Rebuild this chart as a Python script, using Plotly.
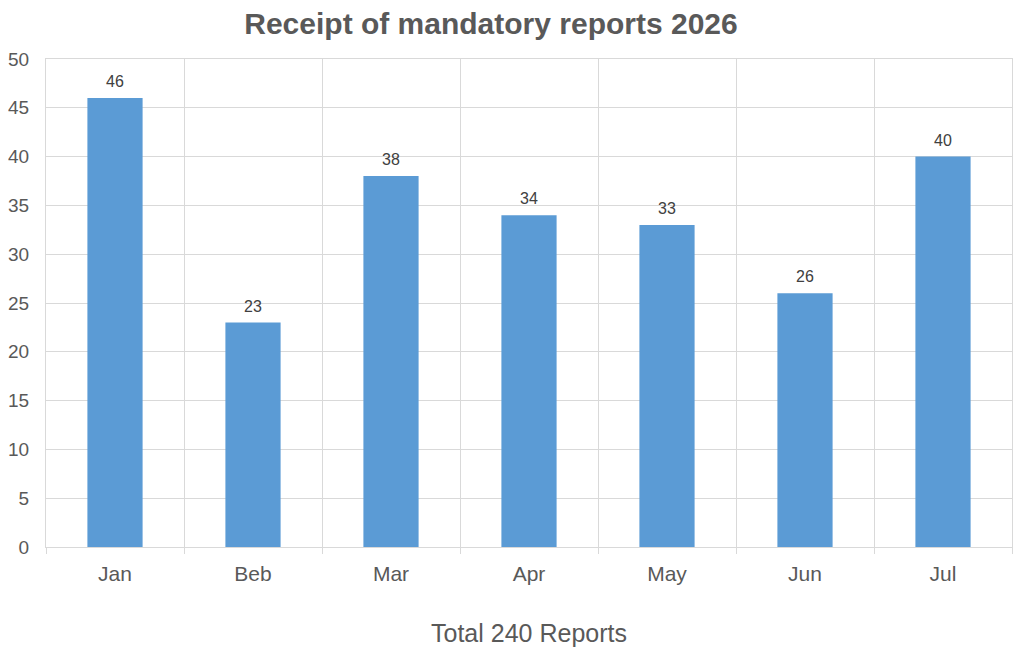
import plotly.graph_objects as go

months = ["Jan", "Beb", "Mar", "Apr", "May", "Jun", "Jul"]
reports = [46, 23, 38, 34, 33, 26, 40]

# page body has an 8px margin, so the figure is sized 8px smaller
fig = go.Figure(
    data=[
        go.Bar(
            x=months,
            y=reports,
            marker=dict(color="#5b9bd5", line=dict(width=0)),
            width=0.4,
        )
    ]
)

# value labels above the bars
for m, v in zip(months, reports):
    fig.add_annotation(
        x=m, y=v, text=str(v),
        showarrow=False, yanchor="bottom", yshift=6,
        font=dict(family="Liberation Sans", size=16, color="#404040"),
    )

fig.update_layout(
    width=1016,
    height=647,
    margin=dict(l=38, r=12, t=51, b=108),
    paper_bgcolor="white",
    plot_bgcolor="white",
    showlegend=False,
    font=dict(family="Liberation Sans", color="#595959"),
    title=dict(
        text="<b>Receipt of mandatory reports 2026</b>",
        x=0.4754, xanchor="center",
        y=1, yanchor="top",
        pad=dict(t=5),
        font=dict(size=30, color="#595959"),
    ),
)

fig.update_xaxes(
    type="category",
    range=[-0.5, 6.5],
    tickson="boundaries",
    showgrid=True,
    gridcolor="#d9d9d9",
    showline=True,
    linecolor="#d9d9d9",
    mirror=True,
    ticks="outside",
    ticklen=6,
    tickcolor="#d9d9d9",
    tickfont=dict(size=21, color="#595959"),
    ticklabelstandoff=8,
    automargin=False,
    title=dict(text="Total 240 Reports", font=dict(size=25, color="#595959"), standoff=40),
)

fig.update_yaxes(
    range=[0, 50],
    dtick=5,
    showgrid=True,
    gridcolor="#d9d9d9",
    zeroline=False,
    showline=True,
    linecolor="#d9d9d9",
    mirror=True,
    tickfont=dict(size=19, color="#595959"),
    ticklabelstandoff=12,
    automargin=False,
)

fig.write_html("out.html")
